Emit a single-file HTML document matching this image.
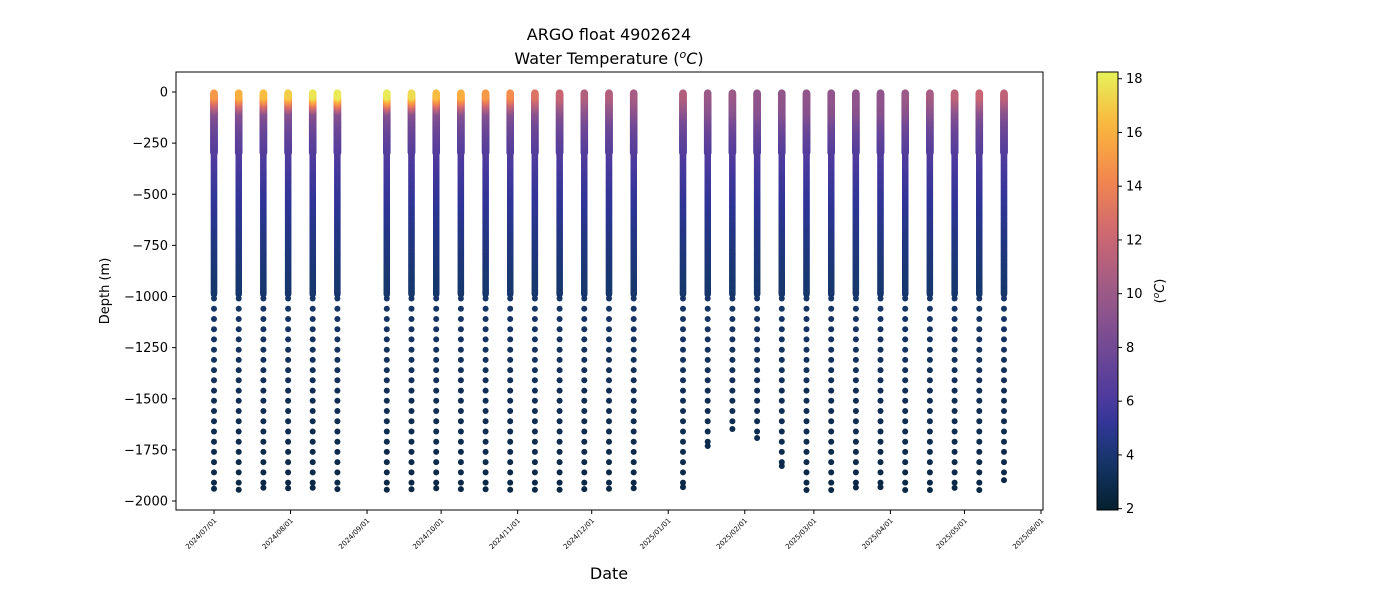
<!DOCTYPE html>
<html><head><meta charset="utf-8">
<style>
body{margin:0;background:#fff;}
svg{display:block;font-family:"DejaVu Sans","Liberation Sans",sans-serif;}
</style></head>
<body>
<svg id="chart" width="1400" height="600" viewBox="0 0 1400 600" xmlns="http://www.w3.org/2000/svg">
  <rect width="1400" height="600" fill="#fff"/>
  <text x="609" y="40" text-anchor="middle" font-size="16">ARGO float 4902624</text>
  <text x="609" y="64" text-anchor="middle" font-size="16">Water Temperature (<tspan font-style="italic"><tspan baseline-shift="super" font-size="11">o</tspan>C</tspan>)</text>
  <g id="marks"></g>
  <rect x="176" y="72" width="867" height="438" fill="none" stroke="#000" stroke-width="1"/>
  <g id="yaxis"></g>
  <g id="xaxis"></g>
  <text transform="translate(109,291) rotate(-90)" text-anchor="middle" font-size="13">Depth (m)</text>
  <text x="609" y="579" text-anchor="middle" font-size="16">Date</text>
  <defs><linearGradient id="cbgrad" x1="0" y1="1" x2="0" y2="0"></linearGradient></defs>
  <rect x="1097" y="72" width="21" height="438" fill="url(#cbgrad)" stroke="#000" stroke-width="1"/>
  <g id="cbaxis"></g>
  <text transform="translate(1164,291) rotate(-90)" text-anchor="middle" font-size="13">(<tspan font-style="italic"><tspan baseline-shift="super" font-size="9">o</tspan>C</tspan>)</text>
</svg>
<script>
// ---- data ----
const profileDays = [0,10,20,30,40,50,70,80,90,100,110,120,130,140,150,160,170,190,200,210,220,230,240,250,260,270,280,290,300,310,320];
const surfaceTemp = [15,16,16.5,17,17.8,18,18,17.5,16.5,16,15,14.5,13,12,11,11,10.5,11,10,10,9.5,9.5,9.5,9.5,9.5,9.5,10,10.5,11.5,12,11.5];
const maxDepth = [1940,1945,1935,1938,1935,1942,1945,1943,1938,1942,1943,1945,1945,1945,1942,1940,1938,1932,1731,1648,1692,1829,1946,1946,1934,1932,1946,1946,1936,1946,1898];
const refDepth = [100,150,200,300,400,500,700,1000,1500,2000];
const refTemp = [9,8,7.3,6.3,5.7,5.2,4.5,3.8,3.1,2.6];
const yTicks = [0,-250,-500,-750,-1000,-1250,-1500,-1750,-2000];
const monthLabels = ["2024/07/01","2024/08/01","2024/09/01","2024/10/01","2024/11/01","2024/12/01","2025/01/01","2025/02/01","2025/03/01","2025/04/01","2025/05/01","2025/06/01"];
const monthDays = [0,31,62,92,123,153,184,215,243,274,304,335];
const cbTicks = [2,4,6,8,10,12,14,16,18];
const cmapStops = [[0,"#04202f"],[0.125,"#183870"],[0.19,"#2f3596"],[0.25,"#4b3a9e"],[0.375,"#744a94"],[0.5,"#9d5a87"],[0.625,"#cc6673"],[0.75,"#f18550"],[0.875,"#fbb43c"],[1,"#e6f25a"]];

// ---- scales ----
const NS="http://www.w3.org/2000/svg";
const xS = d => 214 + d*(827/335);
const yS = z => 92 + (-z)*(409/2000);
const tMin=1.95, tMax=18.25;
function hex(h){return [1,3,5].map(i=>parseInt(h.substr(i,2),16));}
function cmap(t){
  let f=(t-tMin)/(tMax-tMin); f=Math.max(0,Math.min(1,f));
  for(let i=1;i<cmapStops.length;i++){
    if(f<=cmapStops[i][0]){
      const a=cmapStops[i-1],b=cmapStops[i],u=(f-a[0])/(b[0]-a[0]);
      const ca=hex(a[1]),cb=hex(b[1]);
      return "rgb("+ca.map((v,k)=>Math.round(v+(cb[k]-v)*u)).join(",")+")";
    }
  }
  return cmapStops[cmapStops.length-1][1];
}
function tempAt(z,ts){
  if(z<=20) return ts;
  if(z<100) return ts+(refTemp[0]-ts)*(z-20)/80;
  for(let i=1;i<refDepth.length;i++) if(z<=refDepth[i]){
    const u=(z-refDepth[i-1])/(refDepth[i]-refDepth[i-1]);
    return refTemp[i-1]+(refTemp[i]-refTemp[i-1])*u;
  }
  return refTemp[refTemp.length-1];
}
function mk(tag,attrs,parent){const e=document.createElementNS(NS,tag);for(const k in attrs)e.setAttribute(k,attrs[k]);parent.appendChild(e);return e;}

// ---- marks ----
const marks=document.getElementById('marks');
profileDays.forEach((d,i)=>{
  const g=mk('g',{},marks);
  
  
  const x=xS(d);
  for(let z=990;z>=4;z-=3){
    mk('circle',{cx:x.toFixed(1),cy:yS(-z).toFixed(1),r:z<300?3.8:3.2,fill:cmap(tempAt(z,surfaceTemp[i]))},g);
  }
  let last=0;
  for(let z=1010;z<=maxDepth[i];z+=50){
    mk('circle',{cx:x.toFixed(1),cy:yS(-z).toFixed(1),r:3,fill:cmap(tempAt(z,surfaceTemp[i]))},g);
    last=z;
  }
  if(maxDepth[i]-last>8) mk('circle',{cx:x.toFixed(1),cy:yS(-maxDepth[i]).toFixed(1),r:3,fill:cmap(tempAt(maxDepth[i],surfaceTemp[i]))},g);
});

// ---- axes ----
const ya=document.getElementById('yaxis');
yTicks.forEach(v=>{
  const y=yS(v);
  mk('line',{x1:172,x2:176,y1:y,y2:y,stroke:'#000'},ya);
  const t=mk('text',{x:168,y:y+4.5,'text-anchor':'end','font-size':13},ya);
  t.textContent=String(v).replace('-','\u2212');
  
  
});
const xa=document.getElementById('xaxis');
monthDays.forEach((d,i)=>{
  const x=xS(d);
  mk('line',{x1:x,x2:x,y1:510,y2:514,stroke:'#000'},xa);
  const t=mk('text',{transform:`translate(${x+3},521) rotate(-45)`,'text-anchor':'end','font-size':7},xa);
  t.textContent=monthLabels[i];
  
  
});
// ---- colorbar ----
const grad=document.getElementById('cbgrad');
for(let k=0;k<=20;k++){
  const t=tMin+(tMax-tMin)*k/20;
  mk('stop',{offset:(k/20),'stop-color':cmap(t)},grad);
}
const cba=document.getElementById('cbaxis');
const cbY=t=>510-(t-tMin)/(tMax-tMin)*438;
cbTicks.forEach(v=>{
  const y=cbY(v);
  mk('line',{x1:1118,x2:1122,y1:y,y2:y,stroke:'#000'},cba);
  const t=mk('text',{x:1126,y:y+4.5,'font-size':13},cba);
  t.textContent=v;
  
  
});
</script>
</body></html>
